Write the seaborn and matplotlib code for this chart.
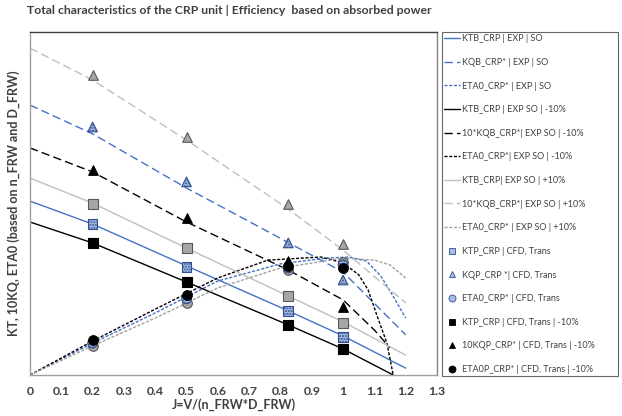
import numpy as np
import pandas as pd
import matplotlib
matplotlib.use("Agg")
import matplotlib.pyplot as plt
import seaborn as sns

sns.set_style("white")
plt.rcParams['font.family'] = ['Lato', 'DejaVu Sans']

# ---------------- data ----------------
J_line = [0, 0.2, 0.5, 0.825, 1.0, 1.2]
J_line_m10 = [0, 0.2, 0.5, 0.825, 1.0, 1.16]
J_kq_exp = [0, 0.2, 0.5, 0.75, 1.0, 1.2]
J_kq_m10 = [0, 0.2, 0.5, 0.825, 1.0, 1.1, 1.15]

KT_exp = [0.507, 0.440, 0.318, 0.187, 0.114, 0.020]
KQ10_exp = [0.787, 0.703, 0.545, 0.423, 0.300, 0.117]
KT_m10 = [0.446, 0.385, 0.271, 0.146, 0.076, 0.0]
KQ10_m10 = [0.662, 0.592, 0.446, 0.306, 0.219, 0.131, 0.079]
KT_p10 = [0.574, 0.501, 0.370, 0.230, 0.155, 0.058]
KQ10_p10 = [0.953, 0.860, 0.685, 0.484, 0.364, 0.210]

J_eta_exp = [0, 0.2, 0.4, 0.6, 0.8, 0.95, 1.02, 1.075, 1.12, 1.15, 1.2]
ETA_exp = [0, 0.093, 0.181, 0.274, 0.324, 0.341, 0.344, 0.332, 0.289, 0.245, 0.166]
J_eta_m10 = [0, 0.2, 0.4, 0.6, 0.76, 0.93, 1.0, 1.05, 1.08, 1.11, 1.14, 1.16]
ETA_m10 = [0, 0.099, 0.192, 0.283, 0.335, 0.344, 0.327, 0.292, 0.248, 0.169, 0.093, 0.0]
J_eta_p10 = [0, 0.2, 0.4, 0.6, 0.8, 1.0, 1.1, 1.15, 1.2]
ETA_p10 = [0, 0.085, 0.166, 0.254, 0.312, 0.341, 0.335, 0.321, 0.283]

J_cfd = [0.2, 0.5, 0.825, 1.0]
KTP_cfd = [0.440, 0.315, 0.187, 0.111]
KQP_cfd = [0.723, 0.563, 0.385, 0.277]
ETA_cfd = [0.093, 0.222, 0.312, 0.321]
KTP_cfd_m10 = [0.385, 0.271, 0.146, 0.076]
KQP_cfd_m10 = [0.598, 0.458, 0.332, 0.198]
ETA_cfd_m10 = [0.102, 0.233, 0.318, 0.312]
KTP_cfd_p10 = [0.499, 0.370, 0.230, 0.152]
KQP_cfd_p10 = [0.875, 0.694, 0.499, 0.382]
ETA_cfd_p10 = [0.085, 0.210, 0.306, 0.329]

x_ticks = [0, 0.1, 0.2, 0.3, 0.4, 0.5, 0.6, 0.7, 0.8, 0.9, 1, 1.1, 1.2, 1.3]
x_tick_labels = ["0", "0.1", "0.2", "0.3", "0.4", "0.5", "0.6", "0.7", "0.8", "0.9", "1", "1.1", "1.2", "1.3"]

title = "Total characteristics of the CRP unit | Efficiency  based on absorbed power"
xlabel = "J=V/(n_FRW*D_FRW)"
ylabel = "KT, 10KQ, ETA0 (based on n_FRW and D_FRW)"

BLUE = "#4472C4"
GRAY = "#BFBFBF"
BLACK = "#000000"
TXT = "#404040"

fig = plt.figure(figsize=(6.22, 4.16), dpi=100)
ax = fig.add_axes([30 / 622, 1 - 375 / 416, 407 / 622, 343 / 416])

LONG = (6, 3)
SHORT = (2.2, 1.2)

lines = [
    (J_line, KT_exp, BLUE, None, "KTB_CRP | EXP | SO"),
    (J_kq_exp, KQ10_exp, BLUE, LONG, "KQB_CRP* | EXP | SO"),
    (J_eta_exp, ETA_exp, BLUE, SHORT, "ETA0_CRP* | EXP | SO"),
    (J_line_m10, KT_m10, BLACK, None, "KTB_CRP | EXP SO | -10%"),
    (J_kq_m10, KQ10_m10, BLACK, LONG, "10*KQB_CRP*| EXP SO | -10%"),
    (J_eta_m10, ETA_m10, BLACK, SHORT, "ETA0_CRP*| EXP SO | -10%"),
    (J_line, KT_p10, GRAY, None, "KTB_CRP| EXP SO | +10%"),
    (J_line, KQ10_p10, GRAY, LONG, "10*KQB_CRP*| EXP SO | +10%"),
    (J_eta_p10, ETA_p10, "#A0A0A0", SHORT, "ETA0_CRP* | EXP SO | +10%"),
]
handles = []
for xs, ys, c, d, lab in lines:
    df = pd.DataFrame({"J": xs, "v": ys})
    sns.lineplot(data=df, x="J", y="v", ax=ax, color=c, lw=1.0, sort=False,
                 estimator=None, label=lab, legend=False)
    ln = ax.lines[-1]
    if d is not None:
        ln.set_dashes(d)
    handles.append(ln)

BLUE_FILL = "#A9BCE4"
markers = [
    (KTP_cfd_p10, "s", "#A6A6A6", "#595959", None),
    (KQP_cfd_p10, "^", "#A6A6A6", "#595959", None),
    (ETA_cfd_p10, "o", "#A6A6A6", "#595959", None),
    (KTP_cfd, "s", BLUE_FILL, "#2F4F8F", "KTP_CRP | CFD, Trans"),
    (KQP_cfd, "^", BLUE_FILL, "#2F4F8F", "KQP_CRP *| CFD, Trans"),
    (ETA_cfd, "o", BLUE_FILL, "#2F4F8F", "ETA0_CRP* | CFD, Trans"),
    (KTP_cfd_m10, "s", BLACK, BLACK, "KTP_CRP | CFD, Trans | -10%"),
    (KQP_cfd_m10, "^", BLACK, BLACK, "10KQP_CRP* | CFD, Trans | -10%"),
    (ETA_cfd_m10, "o", BLACK, BLACK, "ETA0P_CRP* | CFD, Trans | -10%"),
]
for ys, m, fc, ec, lab in markers:
    df = pd.DataFrame({"J": J_cfd, "v": ys})
    sns.scatterplot(data=df, x="J", y="v", ax=ax, marker=m, s=48, color=fc,
                    edgecolor=ec, linewidth=0.8, legend=False, zorder=5)
    coll = ax.collections[-1]
    if fc == BLUE_FILL:
        coll.set_hatch("......")
    if lab is not None:
        h = plt.Line2D([], [], ls="none", marker=m, markersize=5, markerfacecolor=fc,
                       markeredgecolor=ec, markeredgewidth=0.6, label=lab)
        handles.append(h)

ax.set_xlim(0, 1.3)
ax.set_ylim(0, 1.0)
ax.set_xticks(x_ticks)
ax.set_xticklabels(x_tick_labels, fontsize=8.8, fontweight="bold", color=TXT)
ax.set_yticks([])
ax.tick_params(axis="x", length=0, pad=8)
ax.set_xlabel(xlabel, fontsize=9, fontweight="bold", color=TXT, labelpad=0.5)
ax.set_ylabel(ylabel, fontsize=9, fontweight="bold", color=TXT, labelpad=7)
for side, sp in ax.spines.items():
    sp.set_linewidth(1.0)
    sp.set_color("#A0A0A0")
ax.spines["top"].set_color("#404040")
ax.spines["right"].set_color("#808080")

fig.text(27 / 622, 1 - 11 / 416, title, fontsize=8.8, fontweight="bold", color=TXT,
         ha="left", va="center")

leg = fig.legend(handles=handles, loc="upper left",
                 bbox_to_anchor=(442 / 622, 1 - 32 / 416, 176 / 622, 0.0),
                 mode="expand", fontsize=6.5, labelspacing=1.62, handlelength=1.7,
                 handletextpad=0.3, borderpad=0.25, frameon=True, fancybox=False,
                 borderaxespad=0)
leg.get_frame().set_edgecolor("#404040")
leg.get_frame().set_linewidth(0.8)
for t in leg.get_texts():
    t.set_color(TXT)

fig.savefig("out.png", dpi=100)
